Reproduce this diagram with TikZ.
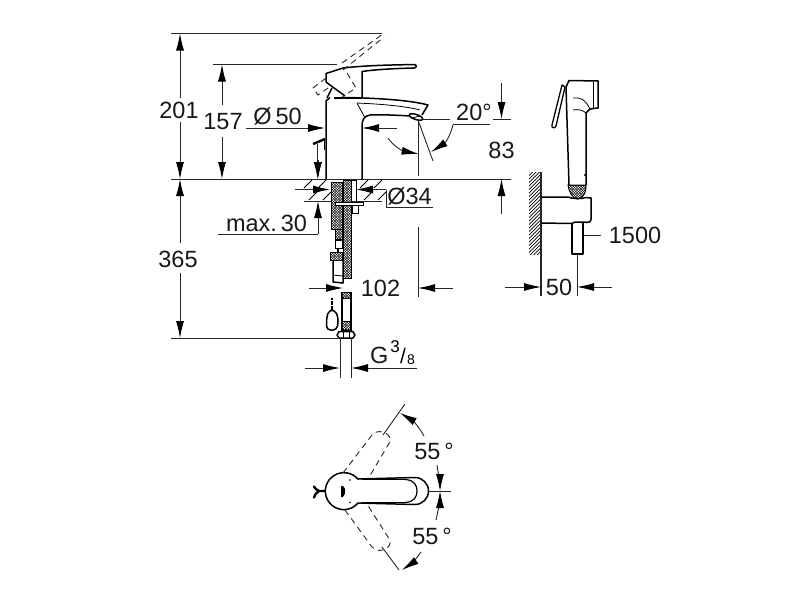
\documentclass[tikz,border=0pt]{standalone}
\usepackage{fontspec}
\setmainfont{Liberation Sans}
\usetikzlibrary{arrows.meta}
\newcommand\chkfield[5]{%
  \begin{scope}
    \clip #1;
    \fill[black] (#2,#4) rectangle (#3,#5);
    \pgfmathsetmacro\chkxb{#2+1.3}\pgfmathsetmacro\chkxc{#2+3.9}\pgfmathsetmacro\chkyb{#4+1.3}\pgfmathsetmacro\chkyc{#4+3.9}
    \foreach \cx in {\chkxb,\chkxc,...,#3}{\foreach \cy in {\chkyb,\chkyc,...,#5}{\fill[white] (\cx,\cy) circle (0.8pt);}}
    \pgfmathsetmacro\chkxb{#2+2.6}\pgfmathsetmacro\chkxc{#2+5.2}\pgfmathsetmacro\chkyb{#4+2.6}\pgfmathsetmacro\chkyc{#4+5.2}
    \foreach \cx in {\chkxb,\chkxc,...,#3}{\foreach \cy in {\chkyb,\chkyc,...,#5}{\fill[white] (\cx,\cy) circle (0.8pt);}}
  \end{scope}
  \draw[line width=1pt] #1;}
\newcommand\chkrect[4]{\chkfield{(#1,#3) rectangle (#2,#4)}{#1}{#2}{#3}{#4}}
\tikzset{
  dim/.style={line width=0.9pt,draw=black!85},
  tipd/.style={dim,-{Latex[length=17pt,width=8pt,black]}},
  outl/.style={line width=1.5pt,line join=round,draw=black},
  thn/.style={line width=0.8pt,draw=black},
  dsh/.style={line width=0.9pt,dash pattern=on 6pt off 4.5pt,draw=black!85},
  lbl/.style={inner sep=0pt,font=\fontsize{23.5}{26}\selectfont,text=black!90}
}
\begin{document}
\begin{tikzpicture}[x=1pt,y=-1pt]
\fill[white] (0,0) rectangle (800,600);
\useasboundingbox (0,0) rectangle (800,600);
% horizontal reference lines
\draw[dim] (171,33.5) -- (382,33.5);
\draw[dim] (213,64.5) -- (337,64.5);
\draw[dim] (171,179) -- (511,179);
\draw[dim] (171,338) -- (338,338);
\draw[dim] (420,119) -- (450,119);
\draw[dim] (493,119) -- (511,119);
% 201
\draw[tipd] (180,98) -- (180,33.5);
\draw[tipd] (180,122) -- (180,179);
% 157
\draw[tipd] (222,105) -- (222,64.5);
\draw[tipd] (222,137) -- (222,179);
% 365
\draw[tipd] (180,243) -- (180,179);
\draw[tipd] (180,273) -- (180,338);
% 83
\draw[tipd] (501.5,83) -- (501.5,119);
\draw[tipd] (501.5,214) -- (501.5,179);
% O50
\draw[tipd] (246,128) -- (325,128);
\draw[tipd] (397,128) -- (362,128);
% max 30
\draw[tipd] (318,160) -- (318,179);
\draw[dim] (218,234) -- (318,234);
\draw[tipd] (318,234) -- (318,201);
% O34
\draw[tipd] (295,189.5) -- (330,189.5);
\draw[tipd] (386,189.5) -- (356,189.5);
\draw[dim] (386,189.5) -- (386,207.5) -- (433,207.5);
% slab
\draw[dim] (304,201) -- (382,201);
\foreach \x in {306,320,362,376}{\draw[thn] (\x+6,180) -- (\x-2,188);}
\foreach \x in {311,325,366,380}{\draw[thn] (\x+6,192) -- (\x-2,200);}
% faucet handle
\draw[outl] (326,82) -- (326,73.5) -- (343,68) .. controls (370,65) and (395,65) .. (414,64.5) .. controls (417,64.5) and (417,68) .. (414,68) .. controls (395,68.5) and (375,69.5) .. (362,71.5) -- (362,97);
\draw[outl] (326,82) -- (345,96);
\draw[outl] (327,98) -- (332,88);
\draw[line width=2pt] (334,97.5) -- (362,97.5);
% body
\draw[outl] (326,179) -- (326,101) -- (330,97.5);
\draw[outl] (345,97.5) .. controls (375,98) and (410,100) .. (428,105) -- (422,115);
\draw[outl] (410,116) .. controls (395,115) and (380,114.5) .. (370,115) .. controls (364,116) and (362,120) .. (362,126) -- (362,179);
\draw[thn] (357,103) -- (365,118);
\draw[thn] (357,103) .. controls (380,104) and (405,106) .. (420,110);
\draw[outl,fill=white,rotate around={-18:(416,117)}] (416,117) ellipse (7pt and 2.5pt);
\draw[thn] (412,118) -- (420,116);
% dashed alt handle
\draw[dsh] (326,78) -- (313,88) -- (318,95) -- (328,88);
\draw[dsh] (347,73) -- (356,88) -- (342,97);
\draw[dsh] (342,63) -- (383,34) -- (385,35);
\draw[dsh] (343,70) -- (384,37);
% popup rod
\draw[line width=2.4pt] (313,144) -- (325,139);
\draw[thn] (324.5,140) -- (324.5,150);
\draw[tipd] (317.7,144) -- (317.7,179);
% 20 deg
\draw[dim] (418.7,119) -- (418.7,176);
\draw[dim] (418,120) -- (433,161);
\draw[dim] (453,124.7) -- (490,124.7);
\draw[tipd] (453,124.7) .. controls (450,137) and (445,143) .. (431,152);
\draw[tipd] (388,138) .. controls (393,146) and (403,151) .. (418.7,154);
% hoses
\chkrect{331}{342}{182}{229}
\chkrect{343}{351}{180}{278}
\chkrect{335}{342}{229}{239}
\chkrect{330}{342}{252}{260}
\draw[thn] (351,180) -- (356.5,180) -- (356.5,202);
\draw[thn] (335,240) rectangle (342,248);
\draw[thn,fill=white] (335,202) rectangle (363,205);
\draw[thn] (352,205) rectangle (358,213);
\draw[line width=1.2pt] (338,248) -- (338,252);
\draw[outl] (333,260) -- (333,282) -- (343,283) -- (343,260);
\draw[thn] (333,275) -- (343,276);
% lower tube
\draw[line width=2pt] (342,292) -- (342,332) (350.5,292) -- (350.5,332);
\draw[thn] (342,292) -- (350.5,292);
\chkrect{342}{350.5}{292}{298}
\chkrect{342}{350.5}{321}{330}
\draw[outl] (339,338) -- (337,335) -- (339,331.5) -- (353,331.5) -- (355,335) -- (353,338) -- cycle;
\draw[thn] (343,332) -- (343,338) (349,332) -- (349,338);
% weight
\draw[outl,rounded corners=4pt] (329,310) -- (326.5,318) -- (326.5,330) -- (337,330) -- (338.5,318) -- (335,310) -- cycle;
\draw[line width=2pt,dash pattern=on 2pt off 0.6pt] (332,298) -- (332,310);
% 102
\draw[tipd] (309,288) -- (343,288);
\draw[dim] (418,227) -- (418,297);
\draw[tipd] (453,288) -- (418,288);
% G 3/8
\draw[dim] (340,338) -- (340,378);
\draw[dim] (351,338) -- (351,378);
\draw[tipd] (305,368) -- (340,368);
\draw[tipd] (417,368) -- (351,368);
% wall
\begin{scope}
\clip (529,172) rectangle (541,254);
\foreach \y in {160,163.5,...,256}{\draw[line width=0.7pt] (541,\y) -- (527,\y+14);}
\end{scope}
\draw[dim,line width=1.1pt] (541,172) -- (541,296);
% bracket
\draw[outl] (541,197) -- (568,197) .. controls (572,199) and (582,199) .. (586,197.5) -- (591,198) -- (591,219) .. controls (591,222) and (589,223) .. (583,222) -- (575,222) .. controls (574,222.5) and (573,223) .. (572,223.5) -- (541,223);
\draw[outl] (572,223) -- (572,254) -- (583,254) -- (583,222);
\draw[dim] (577,254) -- (577,296);
\draw[dim] (583,235) -- (601,235);
% spray
\draw[outl] (569,185) -- (566,87) -- (569,80.5) -- (598,81) -- (598,108) -- (590,109) -- (586,113) -- (586,185);
\draw[thn] (593,82) -- (593,108);
\draw[thn] (573,98) .. controls (580,97) and (585,99) .. (590,109);
\draw[thn] (573,110) .. controls (578,109) and (583,110) .. (586,113);
\draw[outl,line width=1.3pt,fill=white] (562,85) -- (565,87) -- (556,126) .. controls (555,129) and (551,128) .. (552,125) -- cycle;
\fill[black] (585,175) circle (1.2pt);
\chkfield{(568,185) -- (586,185) .. controls (586,191) and (585,197) .. (578,199) .. controls (572,198) and (569,192) .. (568,185) -- cycle}{568}{586}{185}{199}
% 50
\draw[tipd] (505,287) -- (541,287);
\draw[tipd] (612,287) -- (577,287);
% bottom view
\draw[outl] (358,479) -- (415,477.5) arc (-90:90:13.5) -- (358,503);
\draw[outl] (358,503) arc (40:320:18.5 and 18.5);
\draw[outl] (362,479.5) -- (405,479.5) (362,502.5) -- (405,502.5);
\draw[outl,line width=1.2pt] (405,479.5) .. controls (415,480) and (417,486) .. (417,491) .. controls (417,497) and (414,502) .. (405,502.5);
\fill[black] (341,486) -- (343,486) .. controls (346,488) and (346,494) .. (343,497) -- (341,497) -- cycle;
\fill[black] (350,480) circle (0.9pt) (350,502.5) circle (0.9pt);
\draw[line width=2.4pt,line cap=round] (325,491) -- (319,491) (319,491) .. controls (316,490) and (315,488) .. (314,486.5) (319,491) .. controls (316,492) and (315,495) .. (314,497.5);
\draw[dim] (429,491) -- (451,491);
\draw[dsh] (343,473) -- (372,435) .. controls (376,430) and (383,431) .. (387,434) .. controls (391,437) and (391,441) .. (388,445) -- (368,479);
\draw[dsh] (345,510) -- (372,547) .. controls (376,552) and (383,551) .. (387,548) .. controls (391,545) and (391,541) .. (388,537) -- (367,504);
\draw[dim] (383,435) -- (405,404);
\draw[dim] (382,547) -- (399,570);
\draw[tipd] (424,436) .. controls (420,428) and (412,420) .. (400,413);
\draw[tipd] (421,552) .. controls (417,558) and (411,564) .. (402,570);
\draw[tipd] (437,465) .. controls (438,473) and (440,482) .. (440,491);
\draw[tipd] (436,520) .. controls (438,511) and (440,500) .. (440,491);
% labels
\node[lbl] (t201) at (179,110) {201};
\node[lbl] (t157) at (223,122) {157};
\node[lbl] (t50d) at (277.5,116) {Ø\,50};
\node[lbl] (t20) at (474,112) {20°};
\node[lbl] (t83) at (501.5,150) {83};
\node[lbl] (t34) at (409.5,196) {Ø34};
\node[lbl] (tmax) at (266.5,223) {max.\,30};
\node[lbl] (t365) at (178,259) {365};
\node[lbl] (t102) at (380.5,288) {102};
\node[lbl] (t1500) at (635,235) {1500};
\node[lbl] (t50) at (559,287) {50};
\node[lbl,anchor=west] (tg) at (370,355) {G};
\node[inner sep=0pt,font=\fontsize{17}{20}\selectfont] (t3) at (395,347) {3};
\node[inner sep=0pt,font=\fontsize{21}{24}\selectfont] (tsl) at (403,356) {/};
\node[inner sep=0pt,font=\fontsize{14}{16}\selectfont] (t8) at (411,360) {8};
\node[lbl] (t55a) at (434,451) {55\,°};
\node[lbl] (t55b) at (432,536) {55\,°};
\end{tikzpicture}
\end{document}
